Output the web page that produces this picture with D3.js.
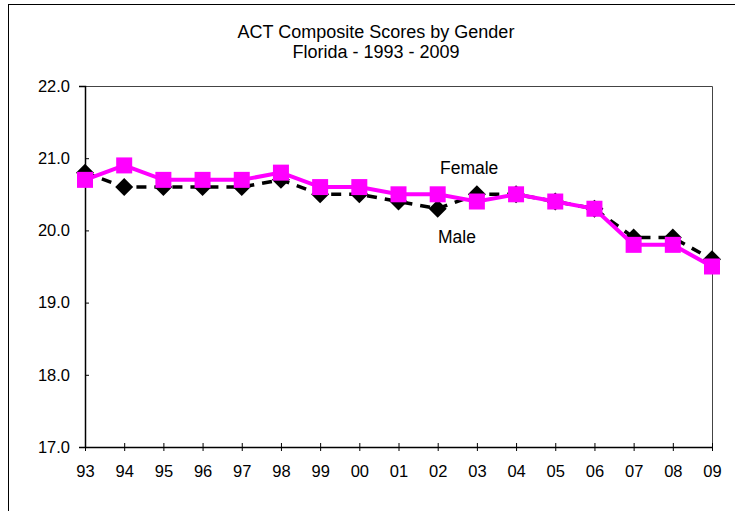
<!DOCTYPE html>
<html>
<head>
<meta charset="utf-8">
<script src="https://cdn.jsdelivr.net/npm/d3@7"></script>
<style>
  body { margin: 0; background: #fff; }
  text { font-family: "Liberation Sans", Arial, sans-serif; fill: #000; }
</style>
</head>
<body>
<script>
// data
const years = ["93", "94", "95", "96", "97", "98", "99", "00", "01", "02", "03", "04", "05", "06", "07", "08", "09"];
const female = [20.7, 20.9, 20.7, 20.7, 20.7, 20.8, 20.6, 20.6, 20.5, 20.5, 20.4, 20.5, 20.4, 20.3, 19.8, 19.8, 19.5];
const male = [20.8, 20.6, 20.6, 20.6, 20.6, 20.7, 20.5, 20.5, 20.4, 20.3, 20.5, 20.5, 20.4, 20.3, 19.9, 19.9, 19.6];
const yTicks = [17, 18, 19, 20, 21, 22];

const width = 735, height = 511;
const margin = {left: 85, right: 23, top: 86, bottom: 64};

const svg = d3.select("body").append("svg")
              .attr("width", width)
              .attr("height", height);

// outer chart frame
svg.append("rect")
   .attr("x", 8.5).attr("y", 4.5)
   .attr("width", 760).attr("height", 540)
   .attr("fill", "none").attr("stroke", "#000").attr("stroke-width", 1);

const x = d3.scalePoint()
            .domain(years)
            .range([margin.left, width - margin.right]);

const y = d3.scaleLinear()
            .domain([17, 22])
            .range([height - margin.bottom, margin.top]);

// plot area border (top and right)
svg.append("path")
   .attr("d", `M${margin.left},${margin.top + 0.5}H${width - margin.right + 0.5}V${height - margin.bottom}`)
   .attr("fill", "none").attr("stroke", "#444").attr("stroke-width", 1);

// title
const title = svg.append("text")
                 .attr("text-anchor", "middle")
                 .attr("font-size", 18);
title.append("tspan").attr("x", 376).attr("y", 38).text("ACT Composite Scores by Gender");
title.append("tspan").attr("x", 376).attr("y", 58).text("Florida - 1993 - 2009");

// y axis
const yAxis = svg.append("g")
                 .attr("transform", `translate(${margin.left},0)`)
                 .call(d3.axisLeft(y)
                         .tickValues(yTicks)
                         .tickSize(6)
                         .tickPadding(9)
                         .tickFormat(d3.format(".1f")));
yAxis.select(".domain").attr("stroke-width", 1.5);
yAxis.selectAll(".tick line").attr("x2", (d) => d === 22 ? -6 : 4);
yAxis.selectAll("text").attr("font-size", 16.5).style("font-family", "Liberation Sans, Arial, sans-serif");

// x axis
const xAxis = svg.append("g")
                 .attr("transform", `translate(0,${height - margin.bottom})`)
                 .call(d3.axisBottom(x)
                         .tickSize(4)
                         .tickPadding(14)
                         .tickSizeOuter(0));
xAxis.select(".domain").attr("stroke-width", 1.5);
xAxis.selectAll(".tick line").attr("y1", -4);
xAxis.selectAll("text").attr("font-size", 16.5).style("font-family", "Liberation Sans, Arial, sans-serif");

const line = d3.line()
               .x((d, i) => x(years[i]))
               .y(d => y(d));

// male series: dashed black with diamonds
svg.append("path")
   .datum(male)
   .attr("d", line)
   .attr("fill", "none")
   .attr("stroke", "#000")
   .attr("stroke-width", 3.5)
   .attr("stroke-dasharray", "10,8");

svg.append("g")
   .selectAll("path")
   .data(male)
   .enter()
   .append("path")
   .attr("transform", (d, i) => `translate(${x(years[i])},${y(d)})`)
   .attr("d", "M0,-9L9,0L0,9L-9,0Z")
   .attr("fill", "#000");

// female series: solid magenta with squares
svg.append("path")
   .datum(female)
   .attr("d", line)
   .attr("fill", "none")
   .attr("stroke", "#ff00ff")
   .attr("stroke-width", 4);

svg.append("g")
   .selectAll("rect")
   .data(female)
   .enter()
   .append("rect")
   .attr("x", (d, i) => x(years[i]) - 8)
   .attr("y", d => y(d) - 8)
   .attr("width", 16)
   .attr("height", 16)
   .attr("fill", "#ff00ff");

// series labels
svg.append("text").attr("x", 440).attr("y", 174).attr("font-size", 17.5).text("Female");
svg.append("text").attr("x", 438).attr("y", 243).attr("font-size", 17.5).text("Male");
</script>
</body>
</html>
